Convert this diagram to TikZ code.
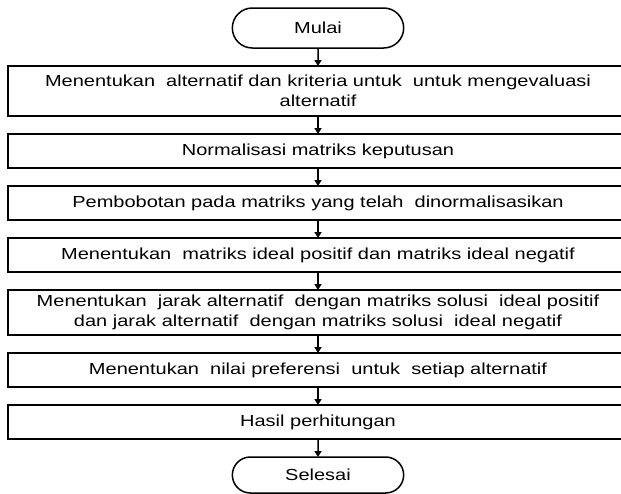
\documentclass[tikz,border=0pt]{standalone}
\usepackage{fontspec}
\newfontfamily\flowfont[FakeStretch=1.25]{Liberation Sans}
\usetikzlibrary{positioning}
\usetikzlibrary{arrows.meta}
\usetikzlibrary{shapes}

\begin{document}
\begin{tikzpicture}[font=\flowfont\fontsize{16pt}{20pt}\selectfont,
      node distance=18pt,
      step box/.style={rectangle,draw=black,line width=1.5pt,minimum
        width=620pt,minimum height=34pt,align=center,inner sep=0pt,
        outer sep=0pt},
      term style/.style={rounded rectangle,draw=black,line width=1.5pt,
        minimum width=178pt,minimum height=40pt,outer sep=0pt}
      ]
      \useasboundingbox (0pt,0pt) rectangle (621pt,-493pt);
      \node[term style] (mulai) at (318pt,-28pt) {Mulai};
      \node[step box,minimum height=50pt,below=of mulai] (alt)
        {Menentukan\ \ alternatif dan kriteria untuk\ \ untuk mengevaluasi\\alternatif};
      \node[step box,below=of alt] (norm) {Normalisasi matriks keputusan};
      \node[step box,below=of norm] (bobot) {Pembobotan pada matriks yang telah\ \ dinormalisasikan};
      \node[step box,below=of bobot] (ideal) {Menentukan\ \ matriks ideal positif dan matriks ideal negatif};
      \node[step box,minimum height=45pt,below=of ideal] (jarak)
        {Menentukan\ \ jarak alternatif\ \ dengan matriks solusi\ \ ideal positif\\
         dan jarak alternatif\ \ dengan matriks solusi\ \ ideal negatif};
      \node[step box,below=of jarak] (pref) {Menentukan\ \ nilai preferensi\ \ untuk\ \ setiap alternatif};
      \node[step box,below=of pref] (hasil) {Hasil perhitungan};
      \node[term style,minimum height=36pt,below=of hasil] (selesai) {Selesai};

      \draw[-{Triangle[width=7pt,length=6pt]},line width=1.5pt] (mulai) edge [] (alt);
      \draw[-{Triangle[width=7pt,length=6pt]},line width=1.5pt] (alt) edge [] (norm);
      \draw[-{Triangle[width=7pt,length=6pt]},line width=1.5pt] (norm) edge [] (bobot);
      \draw[-{Triangle[width=7pt,length=6pt]},line width=1.5pt] (bobot) edge [] (ideal);
      \draw[-{Triangle[width=7pt,length=6pt]},line width=1.5pt] (ideal) edge [] (jarak);
      \draw[-{Triangle[width=7pt,length=6pt]},line width=1.5pt] (jarak) edge [] (pref);
      \draw[-{Triangle[width=7pt,length=6pt]},line width=1.5pt] (pref) edge [] (hasil);
      \draw[-{Triangle[width=7pt,length=6pt]},line width=1.5pt] (hasil) edge [] (selesai);
    \end{tikzpicture}
\end{document}
